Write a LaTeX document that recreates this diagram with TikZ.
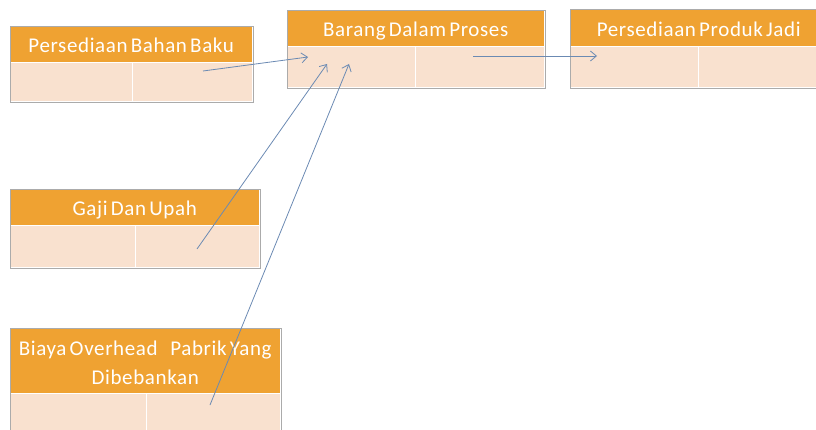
\documentclass[tikz,border=0pt]{standalone}
\usepackage{fontspec}
\setmainfont[LetterSpace=3,WordSpace=0.6]{Carlito}
\usetikzlibrary{arrows.meta}
\definecolor{hdr}{HTML}{EFA232}
\definecolor{bdy}{HTML}{F9E1CF}
\definecolor{brd}{HTML}{ABABAB}
\definecolor{arr}{HTML}{6B8AB3}
\begin{document}
\begin{tikzpicture}[x=1pt,y=-1pt,
  hdrbox/.style={fill=hdr, draw=none, inner sep=0pt, anchor=north west, text=white,
    font=\fontsize{21}{29}\selectfont, align=center, text height=18pt, text depth=1pt},
  cellbox/.style={fill=bdy, draw=white, line width=1.3pt, inner sep=0pt, anchor=north west},
  outline/.style={draw=brd, line width=0.9pt},
  flow/.style={draw=arr, line width=0.8pt, -{Straight Barb[length=6pt,width=10pt]}}]
\useasboundingbox (0,0) rectangle (816,430);
\begin{scope}
\clip (0,0) rectangle (816,430);
% Box A: Persediaan Bahan Baku
\node[hdrbox, minimum width=242pt, minimum height=36pt] (ah) at (10,26) {Persediaan Bahan Baku};
\node[cellbox, minimum width=122pt, minimum height=39pt] (al) at (10,62) {};
\node[cellbox, minimum width=120pt, minimum height=39pt] (ar) at (132,62) {};
\draw[outline] (ah.north west) rectangle (ar.south east);
% Box B: Barang Dalam Proses
\node[hdrbox, minimum width=257pt, minimum height=36pt] (bh) at (287,10) {Barang Dalam Proses};
\node[cellbox, minimum width=128pt, minimum height=41pt] (bl) at (287,46) {};
\node[cellbox, minimum width=129pt, minimum height=41pt] (br) at (415,46) {};
\draw[outline] (bh.north west) rectangle (br.south east);
% Box C: Persediaan Produk Jadi
\node[hdrbox, minimum width=257pt, minimum height=37pt] (ch) at (570,9) {Persediaan Produk Jadi};
\node[cellbox, minimum width=128pt, minimum height=41pt] (cl) at (570,46) {};
\node[cellbox, minimum width=129pt, minimum height=41pt] (cr) at (698,46) {};
\draw[outline] (ch.north west) rectangle (cr.south east);
% Box D: Gaji Dan Upah
\node[hdrbox, minimum width=249pt, minimum height=36pt] (dh) at (10,189) {Gaji Dan Upah};
\node[cellbox, minimum width=125pt, minimum height=42pt] (dl) at (10,225) {};
\node[cellbox, minimum width=124pt, minimum height=42pt] (dr) at (135,225) {};
\draw[outline] (dh.north west) rectangle (dr.south east);
% Box E: Biaya Overhead Pabrik Yang Dibebankan
\node[hdrbox, text height=, text depth=, minimum width=270pt, minimum height=65pt] (eh) at (10,328) {\rule{0pt}{19pt}Biaya Overhead\hspace{0.6em}Pabrik Yang\\[0pt]Dibebankan};
\node[cellbox, minimum width=136pt, minimum height=60pt] (el) at (10,393) {};
\node[cellbox, minimum width=134pt, minimum height=60pt] (er) at (146,393) {};
\draw[outline] (eh.north west) rectangle (er.south east);
% connector ends
\coordinate (a1s) at (203,71);
\coordinate (a1e) at (308,57);
\coordinate (a2s) at (197,249);
\coordinate (a2e) at (327,64);
\coordinate (a3s) at (210,405);
\coordinate (a3e) at (349,64);
\coordinate (a4s) at (473,56);
\coordinate (a4e) at (597,56);
\draw[flow] (a1s) -- (a1e);
\draw[flow] (a2s) -- (a2e);
\draw[flow] (a3s) -- (a3e);
\draw[flow] (a4s) -- (a4e);
\end{scope}
\end{tikzpicture}
\end{document}
